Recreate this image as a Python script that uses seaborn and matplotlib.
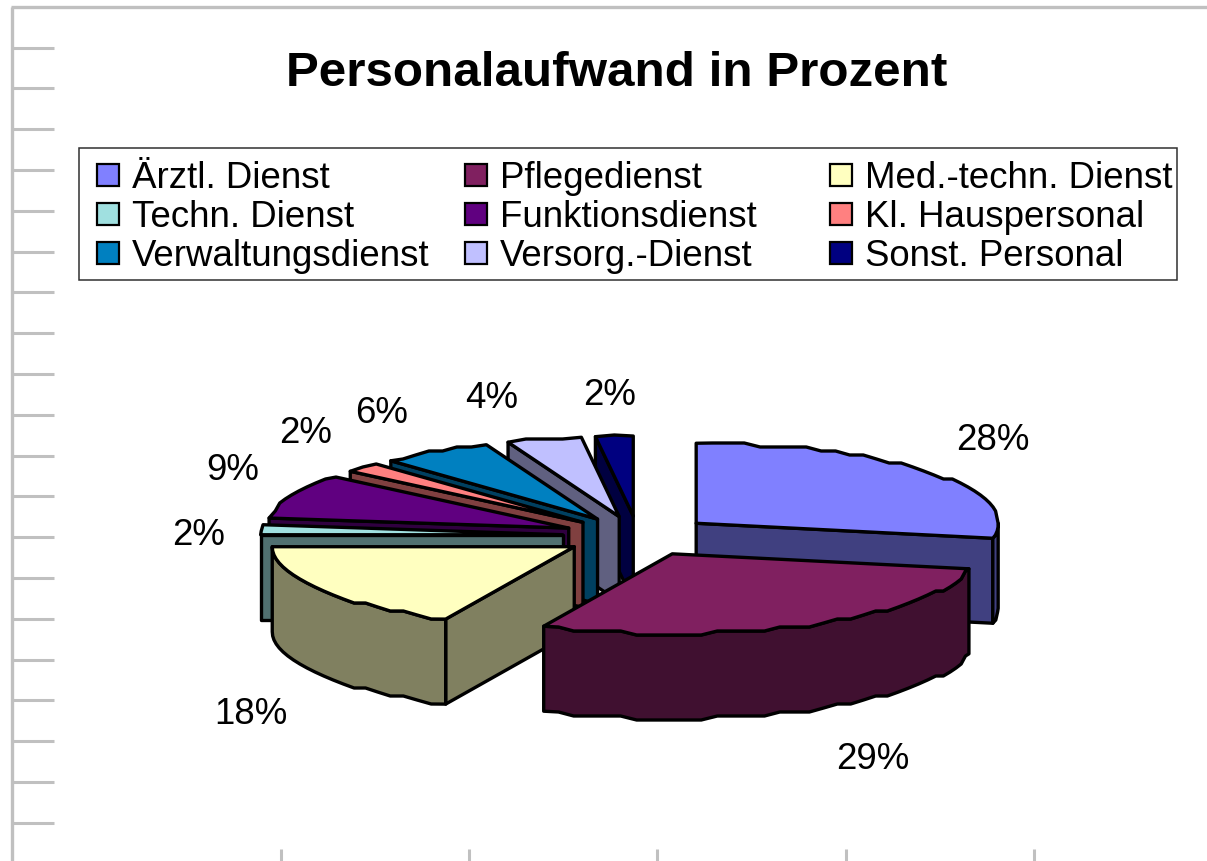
import numpy as np
import seaborn as sns
import matplotlib.pyplot as plt
from matplotlib.patches import Polygon, Rectangle

categories = ["Ärztl. Dienst", "Pflegedienst", "Med.-techn. Dienst",
              "Techn. Dienst", "Funktionsdienst", "Kl. Hauspersonal",
              "Verwaltungsdienst", "Versorg.-Dienst", "Sonst. Personal"]
values = [28, 29, 18, 2, 9, 2, 6, 4, 2]
colors = ["#8080FF", "#802060", "#FFFFC0", "#A0E0E0", "#600080",
          "#FF8080", "#0080C0", "#C0C0FF", "#000080"]
label_pos = [(993, 441), (873, 760), (251, 715), (199, 536), (233, 471),
             (306, 434), (382, 414), (492, 399), (610, 396)]

sns.set_theme(style="white", font="Liberation Sans")
palette = sns.color_palette(colors)

fig = plt.figure(figsize=(12.07, 8.62), dpi=100)
ax = fig.add_axes([0, 0, 1, 1])
ax.set_xlim(0, 1207)
ax.set_ylim(862, 0)
ax.axis("off")

# ruler bits of the worksheet behind the chart
grey = "#C0C0C0"
ax.vlines(11.5, 7.5, 862, color=grey, lw=2.4)
ax.hlines(7.5, 11, 1207, color=grey, lw=2.4)
ax.hlines(np.arange(48.5, 830, 40.8), 11, 54, color=grey, lw=2.2)
ax.vlines([281, 469, 657, 846, 1034], 850, 862, color=grey, lw=2.2)

ax.text(617, 74, "Personalaufwand in Prozent", fontsize=35.6, fontweight="bold",
        ha="center", va="center", color="black")

# legend box, 3 columns, filled row by row
ax.add_patch(Rectangle((79, 148.5), 1098, 132, fc="white", ec="#303030", lw=1.1, zorder=2))
col_x = [97, 465, 830]
row_y = [175.5, 214.5, 253.5]
for i, name in enumerate(categories):
    x, y = col_x[i % 3], row_y[i // 3]
    ax.add_patch(Rectangle((x, y - 11), 22, 22, fc=palette[i], ec="black", lw=1.6, zorder=3))
    ax.text(x + 35, y + 3, name, fontsize=26.4, ha="left", va="center", color="black", zorder=3)

# squashed, exploded pie
cx, cy = 638, 537
rx, ry = 302, 80
depth = 85
explode = 0.25
edge = dict(ec="black", lw=2.4, joinstyle="round")


def rim(a0, a1, apex):
    # coarse stepped arc, like the low-res original
    n = max(2, int(abs(a1 - a0) / 3) + 1)
    t = np.radians(np.linspace(a0, a1, n))
    xs = apex[0] + rx * np.sin(t)
    ys = apex[1] - ry * np.cos(t)
    ys[1:-1] = np.round(ys[1:-1] / 4) * 4
    return np.column_stack([xs, ys])


def shade(c):
    return tuple(v * 0.5 for v in c)


ends = np.cumsum(values) * 3.6
starts = ends - np.array(values) * 3.6
mids = (starts + ends) / 2
down = np.array([0, depth])

for i in np.argsort(-np.cos(np.radians(mids))):
    a0, a1, m = starts[i], ends[i], np.radians(mids[i])
    apex = np.array([cx + explode * rx * np.sin(m), cy - explode * ry * np.cos(m)])
    arc = rim(a0, a1, apex)
    side = shade(palette[i])
    # radial walls, only the ones facing the viewer
    if np.sin(np.radians(a0)) < 0:
        q = np.array([apex, arc[0], arc[0] + down, apex + down])
        ax.add_patch(Polygon(q, fc=side, zorder=5, **edge))
    if np.sin(np.radians(a1)) > 0:
        q = np.array([apex, arc[-1], arc[-1] + down, apex + down])
        ax.add_patch(Polygon(q, fc=side, zorder=5, **edge))
    # outer wall for the front half
    lo, hi = max(a0, 90), min(a1, 270)
    if hi > lo:
        f = rim(lo, hi, apex)
        ax.add_patch(Polygon(np.vstack([f, f[::-1] + down]), fc=side, zorder=5, **edge))
    ax.add_patch(Polygon(np.vstack([apex, arc]), fc=palette[i], zorder=5, **edge))

for v, (x, y) in zip(values, label_pos):
    ax.text(x, y, f"{v}%", fontsize=26.4, ha="center", va="center", color="black", zorder=6)

fig.savefig("out.png", dpi=100)
